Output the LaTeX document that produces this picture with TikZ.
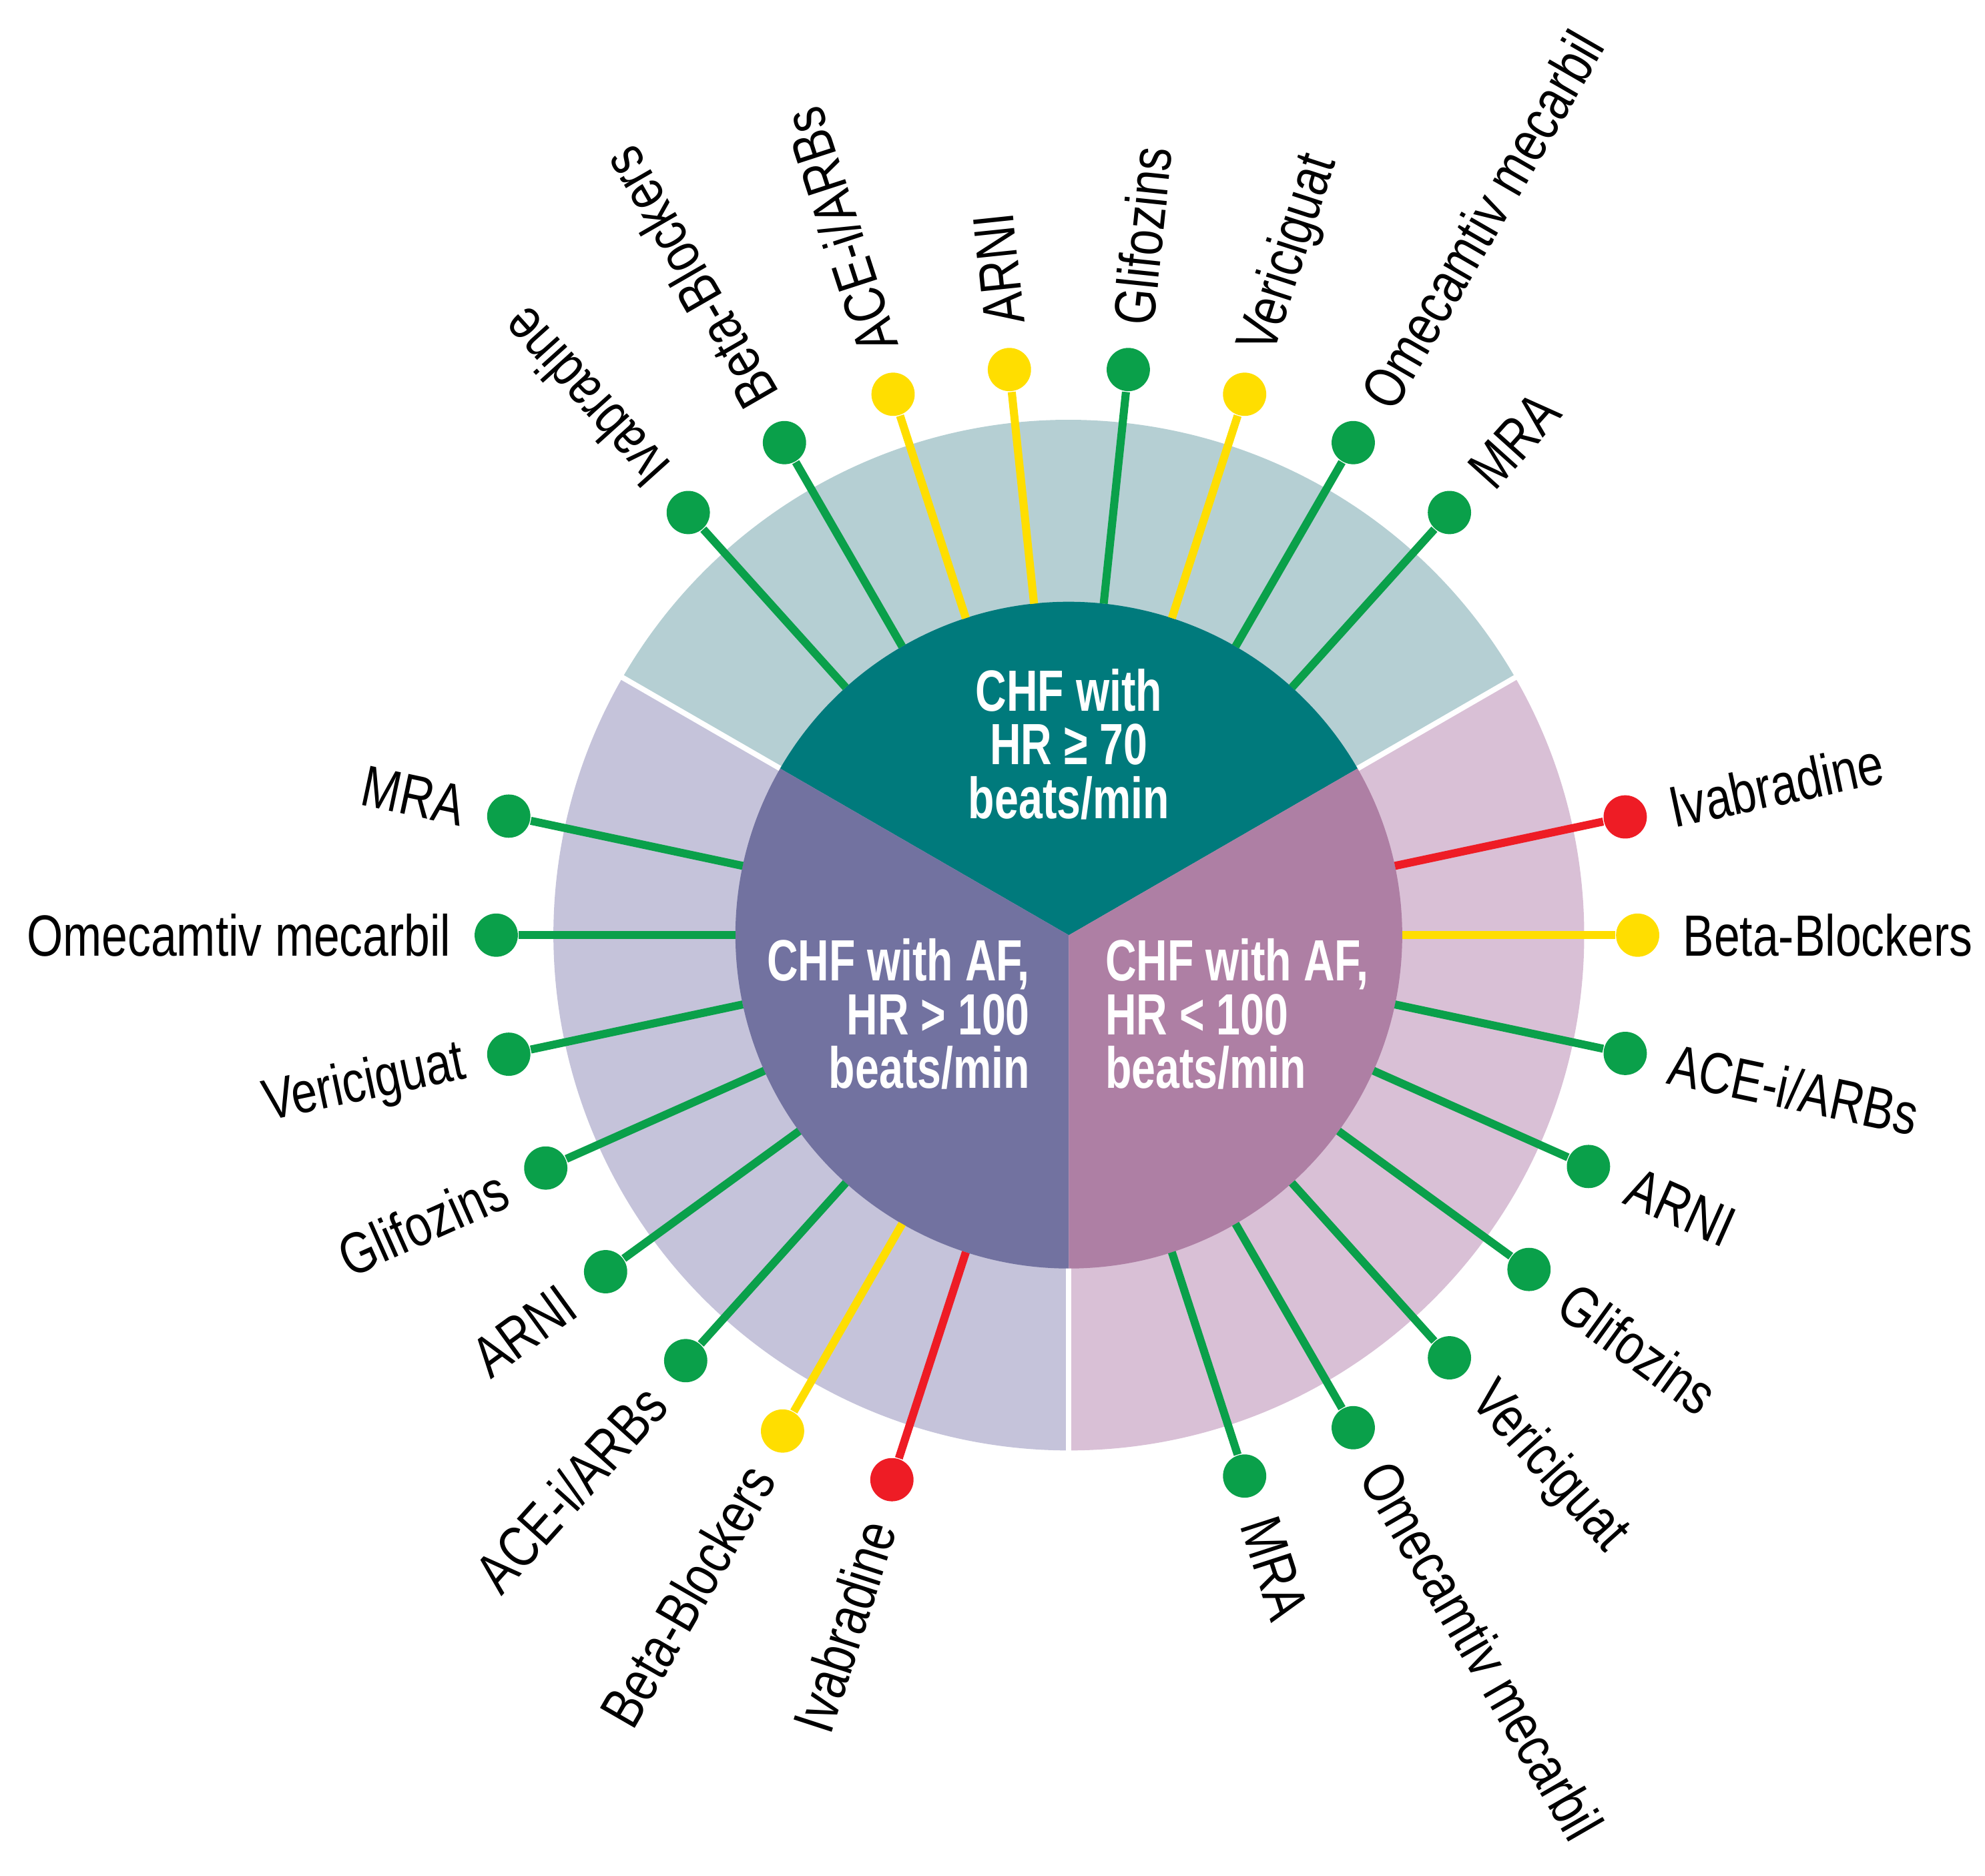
\documentclass[tikz,border=0pt]{standalone}
\usepackage{fontspec}
\setmainfont{Liberation Sans}
\usetikzlibrary{positioning}
\definecolor{grn}{HTML}{0AA04A}
\definecolor{ylw}{HTML}{FFDE00}
\definecolor{rd}{HTML}{EE1C25}
\definecolor{tealin}{HTML}{007A7C}
\definecolor{tealout}{HTML}{B5CFD3}
\definecolor{violin}{HTML}{7272A0}
\definecolor{violout}{HTML}{C5C3DA}
\definecolor{mauvin}{HTML}{AE7FA4}
\definecolor{mauvout}{HTML}{D9C0D6}
\newcommand{\nar}[1]{\scalebox{0.8}[1]{#1}}
\newcommand{\hnar}[1]{\scalebox{0.74}[1]{#1}}
\tikzset{
	spoke/.style={line width=1.8pt},
	dot/.style={circle,inner sep=0pt,minimum size=3.4mm},
	lbl/.style={font=\fontsize{13}{13}\selectfont,inner sep=0pt},
	hub/.style={font=\fontsize{13}{12}\selectfont\bfseries,text=white,inner sep=0pt}
}
\begin{document}
\begin{tikzpicture}
	\useasboundingbox (-8.40,-7.39) rectangle (7.20,7.35);
	% rings
	\fill[tealout] (0,0) -- (30:4.05) arc (30:150:4.05) -- cycle;
	\fill[violout] (0,0) -- (150:4.05) arc (150:270:4.05) -- cycle;
	\fill[mauvout] (0,0) -- (270:4.05) arc (270:390:4.05) -- cycle;
	\foreach \a in {30,150,270}
		\draw[white,line width=1.2pt] (\a:2.6) -- (\a:4.1);
	\fill[tealin] (0,0) -- (30:2.62) arc (30:150:2.62) -- cycle;
	\fill[violin] (0,0) -- (150:2.62) arc (150:270:2.62) -- cycle;
	\fill[mauvin] (0,0) -- (270:2.62) arc (270:390:2.62) -- cycle;
	% hub texts
	\node[hub,align=center] (hrtop) at (0,1.5) {\hnar{CHF with}\\ \hnar{HR ≥ 70}\\ \hnar{beats/min}};
	\node[hub,align=right,anchor=east] (hrleft) at (-0.3,-0.62) {\hnar{CHF with AF,}\\ \hnar{HR > 100}\\ \hnar{beats/min}};
	\node[hub,align=left,anchor=west] (hrright) at (0.28,-0.62) {\hnar{CHF with AF,}\\ \hnar{HR < 100}\\ \hnar{beats/min}};
	% top spokes
	\foreach \a/\c/\t [count=\i] in {132/grn/Ivabradine,120/grn/Beta-Blockers,108/ylw/{ACE-i/ARBs},96/ylw/ARNI,84/grn/Glifozins,72/ylw/Vericiguat,60/grn/Omecamtiv mecarbil,48/grn/MRA}{
		\coordinate (t\i-in) at (\a:2.62);
		\node[dot,fill=\c] (t\i) at (\a:4.47) {};
		\draw[spoke,\c] (t\i-in) -- (t\i);
		\node[lbl,rotate=\a,anchor=west] (t\i-lbl) at (\a:4.82) {\nar{\t}};
	}
	% right spokes
	\foreach \a/\c/\t [count=\i] in {12/rd/Ivabradine,0/ylw/Beta-Blockers,-12/grn/{ACE-i/ARBs},-24/grn/ARNI,-36/grn/Glifozins,-48/grn/Vericiguat,-60/grn/Omecamtiv mecarbil,-72/grn/MRA}{
		\coordinate (r\i-in) at (\a:2.62);
		\node[dot,fill=\c] (r\i) at (\a:4.47) {};
		\draw[spoke,\c] (r\i-in) -- (r\i);
		\node[lbl,rotate=\a,anchor=west] (r\i-lbl) at (\a:4.82) {\nar{\t}};
	}
	% left spokes
	\foreach \a/\c/\t [count=\i] in {168/grn/MRA,180/grn/Omecamtiv mecarbil,192/grn/Vericiguat,204/grn/Glifozins,216/grn/ARNI,228/grn/{ACE-i/ARBs},240/ylw/Beta-Blockers,252/rd/Ivabradine}{
		\coordinate (l\i-in) at (\a:2.62);
		\node[dot,fill=\c] (l\i) at (\a:4.5) {};
		\draw[spoke,\c] (l\i-in) -- (l\i);
		\node[lbl,rotate=\a+180,anchor=east] (l\i-lbl) at (\a:4.85) {\nar{\t}};
	}
\end{tikzpicture}
\end{document}
